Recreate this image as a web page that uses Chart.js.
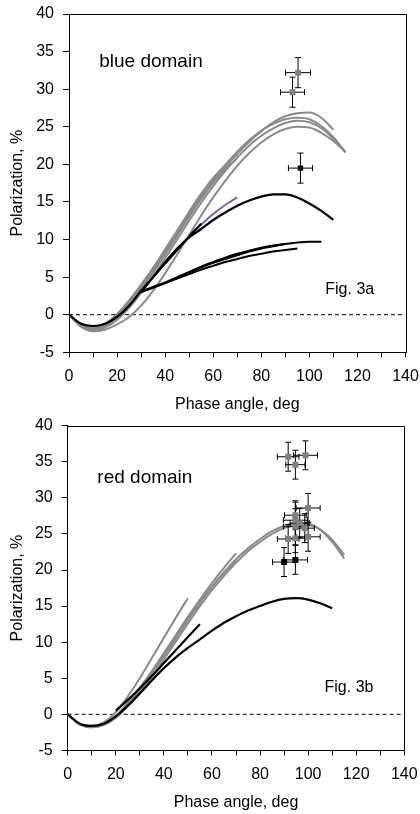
<!DOCTYPE html>
<html>
<head>
<meta charset="utf-8">
<script src="https://cdn.jsdelivr.net/npm/chart.js@4"></script>
<style>
    html, body { margin: 0; padding: 0; background: #fff; }
    #wrap { position: relative; width: 420px; height: 814px; }
    #chartBlue { position: absolute; left: 0; top: 0; }
    #chartRed { position: absolute; left: 0; top: 416px; }
</style>
</head>
<body>
<div id="wrap">
    <canvas id="chartBlue" width="420" height="416"></canvas>
    <canvas id="chartRed" width="420" height="398"></canvas>
</div>
<script>
// Phase angle grids (deg)
const PHASE_0_115 = [0, 5, 10, 15, 20, 25, 30, 35, 40, 45, 50, 55, 60, 65, 70, 75, 80, 85, 90, 95, 100, 105, 110, 115];
const PHASE_0_110 = [0, 5, 10, 15, 20, 25, 30, 35, 40, 45, 50, 55, 60, 65, 70, 75, 80, 85, 90, 95, 100, 105, 110];
const PHASE_0_70 = [0, 5, 10, 15, 20, 25, 30, 35, 40, 45, 50, 55, 60, 65, 70];
const PHASE_0_50 = [0, 5, 10, 15, 20, 25, 30, 35, 40, 45, 50];
const PHASE_0_45 = [0, 5, 10, 15, 20, 25, 30, 35, 40, 45];
const PHASE_0_30 = [0, 5, 10, 15, 20, 25, 30];
const PHASE_20_55 = [20, 25, 30, 35, 40, 45, 50, 55];
const PHASE_30_55 = [30, 35, 40, 45, 50, 55];
const PHASE_30_90 = [30, 35, 40, 45, 50, 55, 60, 65, 70, 75, 80, 85, 90];
const PHASE_30_95 = [30, 35, 40, 45, 50, 55, 60, 65, 70, 75, 80, 85, 90, 95];
const PHASE_30_105 = [30, 35, 40, 45, 50, 55, 60, 65, 70, 75, 80, 85, 90, 95, 100, 105];
const PHASE_30_110 = [30, 35, 40, 45, 50, 55, 60, 65, 70, 75, 80, 85, 90, 95, 100, 105, 110];
const PHASE_50_70 = [50, 55, 60, 65, 70];

// Fig. 3a - blue domain, polarization (%)
const blueGrayA = [0, -1.5, -2.0, -1.6, -0.5, 1.2, 3.3, 5.6, 8.0, 10.5, 13.0, 15.4, 17.6, 19.6, 21.4, 23.0, 24.4, 25.6, 26.4, 26.8, 26.9, 26.2, 24.6];
const blueGrayB = [0, -1.4, -1.9, -1.5, -0.4, 1.3, 3.4, 5.8, 8.3, 10.8, 13.3, 15.7, 17.9, 19.9, 21.7, 23.2, 24.5, 25.4, 26.0, 26.2, 26.0, 25.1, 23.6, 21.6];
const blueGrayC = [0, -1.6, -2.2, -2.0, -1.3, -0.3, 1.2, 3.2, 5.5, 8.0, 10.6, 13.2, 15.6, 17.8, 19.8, 21.5, 22.9, 24.0, 24.7, 25.0, 24.9, 24.2, 23.1, 21.7];
const blueGrayD = [0, -1.5, -2.0, -1.7, -0.7, 0.9, 2.9, 5.1, 7.5, 10.0, 12.5, 14.9, 17.1, 19.1, 20.9, 22.5, 23.8, 24.8, 25.5, 25.8, 25.6, 24.8, 23.4, 21.6];
const blueGrayE = [0, -1.3, -1.7, -1.2, 0.1, 1.9, 4.0, 6.2, 8.4, 10.5];
const blueGrayF = [0, -1.4, -1.8, -1.3, -0.1, 1.7, 3.8, 6.2, 8.7, 11.2, 13.7, 16.1, 18.2, 19.9, 21.3];
const blueGrayG = [0, -1.5, -1.9, -1.5, -0.4, 1.3, 3.4, 5.8, 8.3, 10.8, 13.3, 15.6, 17.6, 19.3, 20.8];
const bluePurple = [10.6, 12.0, 13.4, 14.6, 15.6];
const blueBlackDip = [0, -1.2, -1.5, -1.2, -0.3, 1.2, 3.2];
const blueBlackSteep = [3.2, 5.0, 6.8, 8.6, 10.4, 12.1];
const blueBlackArc = [3.0, 5.0, 7.0, 8.8, 10.3, 11.4, 12.6, 13.6, 14.5, 15.2, 15.7, 16.0, 16.0, 15.6, 14.8, 13.8, 12.6];
const blueBlackLow1 = [3.0, 3.6, 4.2, 4.9, 5.6, 6.3, 6.9, 7.4, 7.9, 8.4, 8.8, 9.1, 9.4, 9.6, 9.7, 9.7];
const blueBlackLow2 = [3.0, 3.6, 4.2, 4.8, 5.4, 6.0, 6.5, 7.0, 7.4, 7.8, 8.1, 8.4, 8.6, 8.8];
const blueBlackLow3 = [3.1, 3.7, 4.3, 5.0, 5.7, 6.4, 7.0, 7.6, 8.1, 8.5, 8.9, 9.2, 9.4];

// Fig. 3a observations with error bars
const blueGrayObsX = [95.3, 93.0];
const blueGrayObsY = [32.2, 29.6];
const blueGrayErrX = [5.2, 5.0];
const blueGrayErrY = [2.0, 2.0];
const blueBlackObsX = [96.3];
const blueBlackObsY = [19.5];
const blueBlackErrX = [5.0];
const blueBlackErrY = [2.0];

// Fig. 3b - red domain, polarization (%)
const redGrayA = [0, -1.3, -1.7, -1.4, -0.3, 1.4, 3.4, 5.7, 8.1, 10.6, 13.1, 15.5, 17.7, 19.7, 21.5, 23.0, 24.3, 25.4, 26.1, 26.5, 26.4, 25.6, 23.9, 21.6];
const redGrayB = [0, -1.4, -1.8, -1.5, -0.5, 1.1, 3.0, 5.2, 7.6, 10.1, 12.6, 15.0, 17.2, 19.2, 21.0, 22.6, 23.9, 25.0, 25.8, 26.2, 26.2, 25.6, 24.2, 22.1];
const redGrayC = [0, -1.3, -1.7, -1.3, -0.2, 1.6, 3.7, 6.0, 8.5, 11.0, 13.5, 15.9, 18.2, 20.3, 22.3];
const redGrayD = [0, -1.4, -1.8, -1.4, -0.3, 1.4, 3.4, 5.7, 8.1, 10.6, 13.1, 15.5, 17.7, 19.6, 21.4];
const redGrayE = [0, -1.3, -1.6, -1.1, 0.3, 2.5, 5.0, 7.8, 10.6, 13.4, 16.1];
const redBlackArc = [0, -1.3, -1.6, -1.3, -0.3, 1.2, 2.9, 4.7, 6.4, 7.9, 9.2, 10.4, 11.6, 12.7, 13.6, 14.4, 15.0, 15.6, 16.0, 16.1, 15.9, 15.4, 14.7];
const redBlackSteep = [0.5, 2.0, 3.6, 5.3, 7.1, 8.9, 10.7, 12.5];

// Fig. 3b observations with error bars
const redGrayObsX = [91.7, 98.9, 94.7, 100.0, 94.7, 94.7, 94.7, 96.5, 98.6, 91.7, 94.7, 100.0];
const redGrayObsY = [35.7, 35.9, 34.6, 28.6, 27.6, 26.9, 26.0, 26.5, 25.8, 24.3, 24.4, 24.6];
const redGrayErrX = [4.5, 5.0, 4.0, 5.0, 4.5, 5.0, 5.0, 4.0, 4.0, 4.5, 4.0, 5.0];
const redGrayErrY = [2.0, 2.0, 2.0, 2.0, 2.0, 2.5, 2.5, 2.0, 2.0, 2.0, 2.0, 2.0];
const redBlackObsX = [90.0, 94.7];
const redBlackObsY = [21.1, 21.4];
const redBlackErrX = [4.8, 5.0];
const redBlackErrY = [2.0, 2.0];

// Notes inside the plot (data coordinates)
const blueNoteText = ['blue domain', 'Fig. 3a'];
const blueNoteX = [34.1, 116.8];
const blueNoteY = [33.6, 3.3];
const redNoteText = ['red domain', 'Fig. 3b'];
const redNoteX = [32.1, 117.0];
const redNoteY = [32.8, 3.7];

const FONT = "'Liberation Sans', Arial, sans-serif";
const GRAY = '#8a8a8a';
const GRAY_MARK = '#808080';
const BLACK = '#000000';
const PURPLE = '#7b62a3';

function zip(xs, ys) {
    return xs.map((x, i) => ({ x: x, y: ys[i] }));
}

function curve(xs, ys, color, width) {
    return {
        data: zip(xs, ys),
        showLine: true,
        borderColor: color,
        borderWidth: width,
        pointRadius: 0,
        cubicInterpolationMode: 'monotone',
        fill: false
    };
}

function observations(xs, ys, ex, ey, color, radius) {
    return {
        data: zip(xs, ys),
        showLine: false,
        pointStyle: 'rect',
        pointRadius: radius,
        pointBorderWidth: 0,
        backgroundColor: color,
        borderColor: color,
        errX: ex,
        errY: ey
    };
}

function zeroLine() {
    return {
        data: zip([0, 140], [0, 0]),
        showLine: true,
        borderColor: BLACK,
        borderWidth: 1,
        borderDash: [4, 3],
        pointRadius: 0
    };
}

// Error bars drawn just before the markers of a dataset
const errorBars = {
    id: 'errorBars',
    beforeDatasetDraw(chart, args) {
        const ds = chart.data.datasets[args.index];
        if (!ds.errX) return;
        const { ctx, scales: { x, y } } = chart;
        const cap = 3;
        ctx.save();
        ctx.strokeStyle = BLACK;
        ctx.lineWidth = 1;
        ds.data.forEach((p, i) => {
            const px = x.getPixelForValue(p.x);
            const py = y.getPixelForValue(p.y);
            const x0 = x.getPixelForValue(p.x - ds.errX[i]);
            const x1 = x.getPixelForValue(p.x + ds.errX[i]);
            const y0 = y.getPixelForValue(p.y - ds.errY[i]);
            const y1 = y.getPixelForValue(p.y + ds.errY[i]);
            ctx.beginPath();
            ctx.moveTo(x0, py); ctx.lineTo(x1, py);
            ctx.moveTo(x0, py - cap); ctx.lineTo(x0, py + cap);
            ctx.moveTo(x1, py - cap); ctx.lineTo(x1, py + cap);
            ctx.moveTo(px, y0); ctx.lineTo(px, y1);
            ctx.moveTo(px - cap, y0); ctx.lineTo(px + cap, y0);
            ctx.moveTo(px - cap, y1); ctx.lineTo(px + cap, y1);
            ctx.stroke();
        });
        ctx.restore();
    }
};

// Plot frame (top/right) and text notes
const frameAndNotes = {
    id: 'frameAndNotes',
    afterDraw(chart, args, opts) {
        const { ctx, chartArea: a, scales: { x, y } } = chart;
        ctx.save();
        ctx.strokeStyle = BLACK;
        ctx.lineWidth = 1;
        const top = Math.round(a.top) + 0.5;
        const right = Math.round(a.right) + 0.5;
        ctx.beginPath();
        ctx.moveTo(Math.round(a.left), top);
        ctx.lineTo(right, top);
        ctx.lineTo(right, Math.round(a.bottom) + 1);
        ctx.stroke();

        ctx.fillStyle = BLACK;
        ctx.textAlign = 'center';
        ctx.textBaseline = 'middle';
        opts.text.forEach((t, i) => {
            ctx.font = opts.sizes[i] + 'px ' + FONT;
            ctx.fillText(t, x.getPixelForValue(opts.x[i]), y.getPixelForValue(opts.y[i]));
        });
        ctx.restore();
    }
};

function makeChart(canvasId, datasets, notes, box) {
    const tickFont = { family: FONT, size: 16 };
    return new Chart(document.getElementById(canvasId), {
        type: 'scatter',
        data: { datasets: datasets },
        options: {
            responsive: false,
            animation: false,
            layout: { padding: { left: 0, top: box.top, right: box.right, bottom: 0 } },
            plugins: {
                legend: { display: false },
                tooltip: { enabled: false },
                frameAndNotes: notes
            },
            scales: {
                x: {
                    type: 'linear',
                    min: 0,
                    max: 140,
                    afterFit: (s) => {
                        s.height = box.xHeight;
                        s.paddingLeft = 0;
                        s.paddingRight = 0;
                    },
                    ticks: {
                        stepSize: 10,
                        autoSkip: false,
                        maxRotation: 0,
                        padding: 10,
                        color: BLACK,
                        font: tickFont,
                        callback: (v) => (v % 20 === 0 ? v : '')
                    },
                    grid: { drawOnChartArea: false, drawTicks: true, tickLength: 5, color: BLACK },
                    border: { color: BLACK, width: 1 },
                    title: {
                        display: true,
                        text: 'Phase angle, deg',
                        color: BLACK,
                        font: { family: FONT, size: 16 },
                        padding: { top: 0, bottom: 2 }
                    }
                },
                y: {
                    type: 'linear',
                    min: -5,
                    max: 40,
                    afterFit: (s) => {
                        s.width = box.yWidth;
                        s.paddingTop = 0;
                        s.paddingBottom = 0;
                    },
                    ticks: { stepSize: 5, padding: 9, color: BLACK, font: tickFont },
                    grid: { drawOnChartArea: false, drawTicks: true, tickLength: 6, color: BLACK },
                    border: { color: BLACK, width: 1 },
                    title: {
                        display: true,
                        text: 'Polarization, %',
                        color: BLACK,
                        font: { family: FONT, size: 16 },
                        padding: { top: 8, bottom: 0 }
                    }
                }
            }
        },
        plugins: [errorBars, frameAndNotes]
    });
}

// First dataset is drawn on top
const blueDatasets = [
    observations(blueGrayObsX, blueGrayObsY, blueGrayErrX, blueGrayErrY, GRAY_MARK, 4.2),
    observations(blueBlackObsX, blueBlackObsY, blueBlackErrX, blueBlackErrY, BLACK, 3.8),
    curve(PHASE_0_30, blueBlackDip, BLACK, 2.2),
    curve(PHASE_30_55, blueBlackSteep, BLACK, 2.2),
    curve(PHASE_30_110, blueBlackArc, BLACK, 2.2),
    curve(PHASE_30_105, blueBlackLow1, BLACK, 2),
    curve(PHASE_30_95, blueBlackLow2, BLACK, 2),
    curve(PHASE_30_90, blueBlackLow3, BLACK, 2),
    curve(PHASE_50_70, bluePurple, PURPLE, 2),
    curve(PHASE_0_110, blueGrayA, GRAY, 2),
    curve(PHASE_0_115, blueGrayB, GRAY, 2),
    curve(PHASE_0_115, blueGrayC, GRAY, 2),
    curve(PHASE_0_115, blueGrayD, GRAY, 2),
    curve(PHASE_0_45, blueGrayE, GRAY, 2),
    curve(PHASE_0_70, blueGrayF, GRAY, 2),
    curve(PHASE_0_70, blueGrayG, GRAY, 2),
    zeroLine()
];

const redDatasets = [
    observations(redBlackObsX, redBlackObsY, redBlackErrX, redBlackErrY, BLACK, 4.2),
    observations(redGrayObsX, redGrayObsY, redGrayErrX, redGrayErrY, GRAY_MARK, 4.2),
    curve(PHASE_0_110, redBlackArc, BLACK, 2.2),
    curve(PHASE_20_55, redBlackSteep, BLACK, 2.2),
    curve(PHASE_0_115, redGrayA, GRAY, 2),
    curve(PHASE_0_115, redGrayB, GRAY, 2),
    curve(PHASE_0_70, redGrayC, GRAY, 2),
    curve(PHASE_0_70, redGrayD, GRAY, 2),
    curve(PHASE_0_50, redGrayE, GRAY, 2),
    zeroLine()
];

makeChart('chartBlue', blueDatasets,
    { text: blueNoteText, x: blueNoteX, y: blueNoteY, sizes: [19, 16] },
    { top: 14, right: 14.5, yWidth: 69, xHeight: 63.7 });

makeChart('chartRed', redDatasets,
    { text: redNoteText, x: redNoteX, y: redNoteY, sizes: [19, 16] },
    { top: 9.7, right: 15.7, yWidth: 67.7, xHeight: 63.6 });
</script>
</body>
</html>
